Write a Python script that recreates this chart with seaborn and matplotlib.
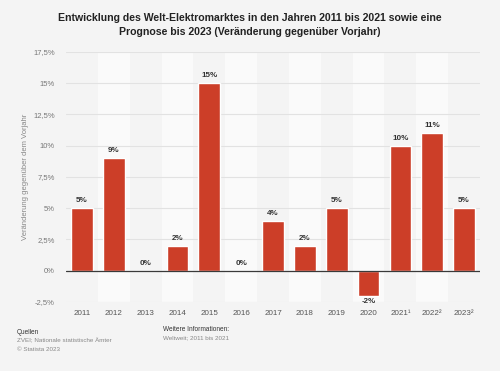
import matplotlib
matplotlib.use("Agg")
import matplotlib.pyplot as plt
import seaborn as sns
import pandas as pd

# Daten
jahre = ["2011", "2012", "2013", "2014", "2015", "2016", "2017", "2018",
         "2019", "2020", "2021¹", "2022²", "2023²"]
veraenderung = [5, 9, 0, 2, 15, 0, 4, 2, 5, -2, 10, 11, 5]
y_ticks = [-2.5, 0, 2.5, 5, 7.5, 10, 12.5, 15, 17.5]
y_tick_labels = ["-2,5%", "0%", "2,5%", "5%", "7,5%", "10%", "12,5%", "15%", "17,5%"]

df = pd.DataFrame({"jahr": jahre, "wert": veraenderung})

sns.set_style("white")
plt.rcParams["font.family"] = ["Liberation Sans", "DejaVu Sans"]

fig = plt.figure(figsize=(5, 3.71), dpi=100)
fig.patch.set_facecolor("#f4f4f4")
ax = fig.add_axes([0.132, 0.186, 0.828, 0.674])
ax.set_facecolor("#f4f4f4")

# abwechselnde Hintergrundstreifen
for i in range(1, len(jahre), 2):
    ax.axvspan(i - 0.5, i + 0.5, color="#fafafa", zorder=0, lw=0)

# Gitterlinien
for t in y_ticks:
    if t != 0:
        ax.axhline(t, color="#e2e2e2", lw=0.8, zorder=1)

sns.barplot(data=df, x="jahr", y="wert", color="#cc3e28", width=0.68,
            saturation=1, ax=ax, zorder=2)
ax.axhline(0, color="#3a3a3a", lw=0.9, zorder=3)

for i, v in enumerate(veraenderung):
    txt = f"{v}%"
    if v >= 0:
        ax.text(i, v + 0.3, txt, ha="center", va="bottom", fontsize=5.8,
                fontweight="bold", color="#333333", zorder=4)
    else:
        ax.text(i, v - 0.2, txt, ha="center", va="top", fontsize=5.8,
                fontweight="bold", color="#333333", zorder=4)

ax.set_ylim(-2.5, 17.5)
ax.set_xlim(-0.5, len(jahre) - 0.5)
ax.set_yticks(y_ticks)
ax.set_yticklabels(y_tick_labels)
ax.tick_params(axis="y", length=0, labelsize=5.5, labelcolor="#777777", pad=8)
ax.tick_params(axis="x", length=0, labelsize=5.8, labelcolor="#555555", pad=6)
for s in ax.spines.values():
    s.set_visible(False)
ax.set_xlabel("")
ax.set_ylabel("Veränderung gegenüber dem Vorjahr", fontsize=5.5, color="#888888")
ax.yaxis.set_label_coords(-0.089, 0.5)

fig.text(0.5, 0.965, "Entwicklung des Welt-Elektromarktes in den Jahren 2011 bis 2021 sowie eine\n"
         "Prognose bis 2023 (Veränderung gegenüber Vorjahr)",
         ha="center", va="top", fontsize=7.6, fontweight="bold", color="#222222",
         linespacing=1.55)

# Fußzeile
fig.text(0.034, 0.105, "Quellen", fontsize=4.7, color="#333333", va="center")
fig.text(0.034, 0.081, "ZVEI; Nationale statistische Ämter", fontsize=4.5, color="#888888", va="center")
fig.text(0.034, 0.057, "© Statista 2023", fontsize=4.5, color="#888888", va="center")
fig.text(0.326, 0.113, "Weitere Informationen:", fontsize=4.7, color="#333333", va="center")
fig.text(0.326, 0.089, "Weltweit; 2011 bis 2021", fontsize=4.5, color="#888888", va="center")

fig.savefig("out.png", dpi=100, facecolor=fig.get_facecolor())
